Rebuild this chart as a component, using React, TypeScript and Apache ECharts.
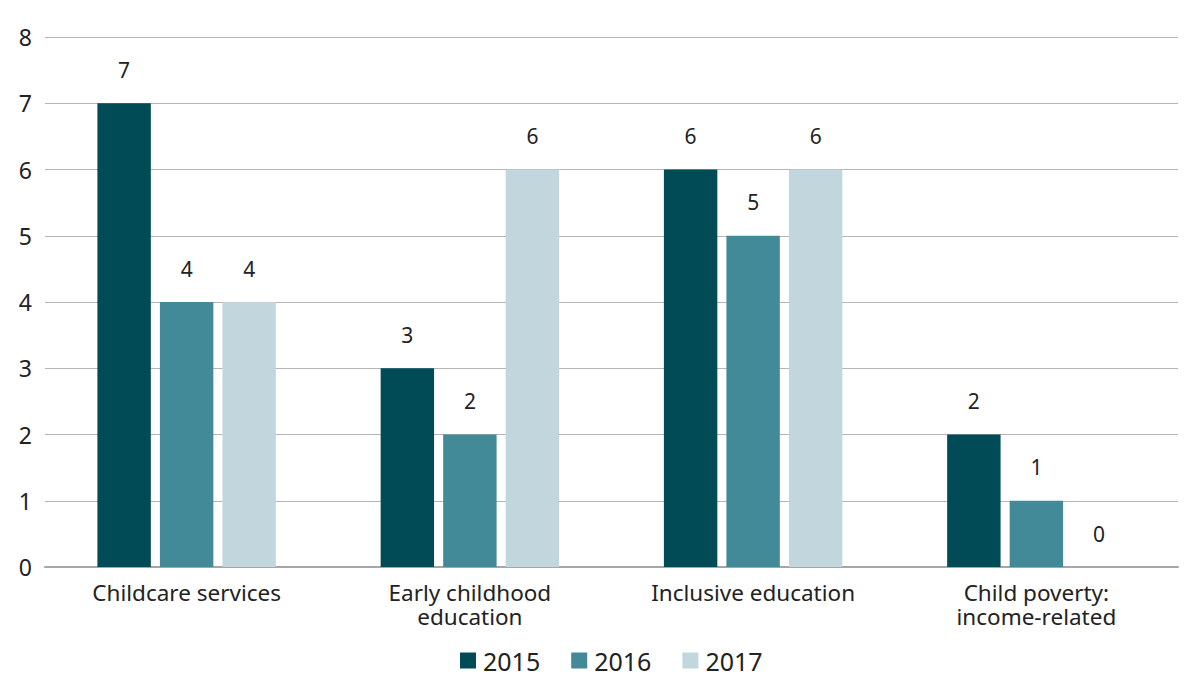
import React, { useEffect, useRef } from "react";
import * as echarts from "echarts";

const categories = ["Childcare services", "Early childhood\neducation", "Inclusive education", "Child poverty:\nincome-related"];
const years = ["2015", "2016", "2017"];
const values2015 = [7, 3, 6, 2];
const values2016 = [4, 2, 5, 1];
const values2017 = [4, 6, 6, 0];
const colors = ["#014b57", "#428a97", "#c1d6dd"];
const yTicks = { min: 0, max: 8, interval: 1 };

const FONT = "Noto Sans";

export default function App() {
  const ref = useRef<HTMLDivElement>(null);
  useEffect(() => {
    const chart = echarts.init(ref.current!, null, { renderer: "svg" });
    const seriesData = [values2015, values2016, values2017];
    chart.setOption({
      animation: false,
      textStyle: { fontFamily: FONT },
      grid: { left: 45, right: 12, top: 37, bottom: 117 },
      legend: {
        bottom: 6,
        left: 455,
        itemWidth: 16,
        itemHeight: 16,
        itemGap: 31,
        icon: "rect",
        textStyle: { fontSize: 25, color: "#222", fontFamily: FONT, padding: [0, 0, 0, 2] },
        data: years,
      },
      xAxis: {
        type: "category",
        data: categories,
        axisLine: { lineStyle: { color: "#a6a6a6", width: 2 } },
        axisTick: { show: false },
        axisLabel: { fontSize: 22.5, color: "#222", margin: 13, lineHeight: 24, fontFamily: FONT },
      },
      yAxis: {
        type: "value",
        min: yTicks.min,
        max: yTicks.max,
        interval: yTicks.interval,
        axisLine: { show: false },
        axisTick: { show: false },
        splitLine: { lineStyle: { color: "#b5b5b5", width: 1 } },
        axisLabel: { fontSize: 23, color: "#222", margin: 13, fontFamily: FONT },
      },
      series: years.map((y, i) => ({
        name: y,
        type: "bar",
        data: seriesData[i],
        itemStyle: { color: colors[i] },
        barGap: "17%",
        barCategoryGap: "37%",
        label: {
          show: true,
          position: "top",
          distance: 23,
          fontSize: 21,
          color: "#222",
          fontFamily: FONT,
        },
      })),
    });
    return () => chart.dispose();
  }, []);
  return <div ref={ref} style={{ width: 1190, height: 684, margin: -8 }} />;
}
